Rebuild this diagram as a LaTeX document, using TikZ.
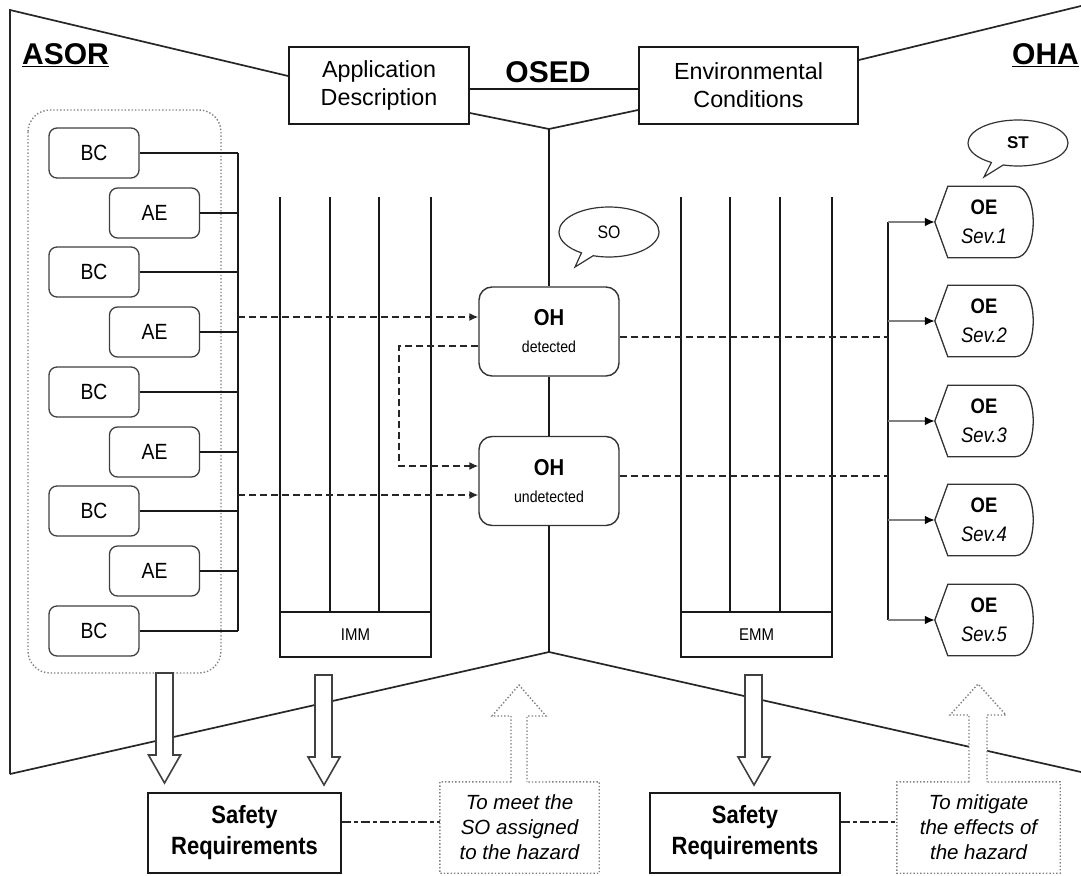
\documentclass[tikz,border=0pt]{standalone}
\usepackage{fontspec}
\setmainfont{Liberation Sans}
\newfontfamily\nrw[FakeStretch=0.88]{Liberation Sans}
\usetikzlibrary{shapes.callouts,arrows.meta,calc}
\begin{document}
\begin{tikzpicture}[x=1pt,y=-1pt,
  outline/.style={draw=black!85,line width=1.7},
  conn/.style={draw=black!90,line width=1.6},
  bigbox/.style={draw=black!90,line width=1.8,fill=white,align=center,inner sep=0},
  bcbox/.style={draw=black!75,line width=1.3,rounded corners=8,minimum width=90,minimum height=50,inner sep=0,font=\nrw\fontsize{22}{26}\selectfont},
  ohbox/.style={draw=black!80,line width=1.4,rounded corners=13,minimum width=140,minimum height=89,inner sep=0,align=center,font=\fontsize{17}{27}\selectfont},
  oenode/.style={minimum width=98,minimum height=71,inner sep=0,align=center,font=\fontsize{21}{29}\selectfont},
  oeline/.style={draw=black!80,line width=1.3},
  mmbox/.style={draw=black!90,line width=1.4,minimum height=45,inner sep=0,font=\nrw\fontsize{17}{20}\selectfont},
  dasharrow/.style={draw=black!85,line width=1.5,dash pattern=on 7pt off 4pt,-{Latex[length=9pt,width=8pt]}},
  dashline/.style={draw=black!85,line width=1.5,dash pattern=on 7pt off 4pt},
  oearrow/.style={draw=black!50,line width=2.6,-{Latex[length=10pt,width=9pt,black]}},
  hollow/.style={draw=black!75,line width=1.6,fill=white},
  dotline/.style={draw=black!50,line width=1.4,dotted},
  dashdot/.style={draw=black!85,line width=1.5,dash pattern=on 9pt off 3pt on 4pt off 3pt},
  bubble/.style={ellipse callout,draw=black!80,line width=1.2,fill=white,inner sep=0},
  title/.style={font=\bfseries\fontsize{30}{34}\selectfont,inner sep=0}
]
\useasboundingbox (0,0) rectangle (1081,875);

% ---- boxes at top
\node[bigbox,minimum width=180,minimum height=77,font=\fontsize{23.3}{28}\selectfont] (app) at (379,85.5) {Application\\Description};
\node[bigbox,minimum width=219,minimum height=77,font=\fontsize{23.3}{28}\selectfont] (env) at (748.5,85.5) {Environmental\\Conditions};

% ---- outline
\coordinate (tl) at (10,10);
\coordinate (bl) at (10,774);
\coordinate (atop) at (549,129);
\coordinate (abot) at (549,652);
\coordinate (tr) at (1081,6);
\coordinate (br) at (1081,772);
\draw[outline] (bl) -- (tl) -- (app.west |- 0,76);
\draw[outline] (app.east |- 0,113) -- (atop) -- (env.west |- 0,110);
\draw[outline] (env.east |- 0,60) -- (tr);
\draw[outline] (bl) -- (abot) -- (br);
\draw[conn,line width=1.7] (app.east |- 0,89) -- (env.west |- 0,89);

% ---- titles
\node[title,anchor=base west] (asor) at (22,65) {\underline{ASOR}};
\node[title,anchor=base] (osed) at (548,82) {OSED};
\node[title,anchor=base west] (oha) at (1012,65) {\underline{OHA}};

% ---- ASOR container and BC / AE
\draw[dotline,rounded corners=22] (28,110) rectangle (221,673);
\coordinate (lbusT) at (238,153);
\coordinate (lbusB) at (238,631);
\draw[conn] (lbusT) -- (lbusB);
\foreach \y/\n in {153/1,272/2,392/3,511/4,631/5}{
  \node[bcbox,fill=white] (bc\n) at (94,\y) {BC};
  \draw[conn] (bc\n.east) -- (lbusT |- bc\n.east);
}
\foreach \y/\n in {213/1,332/2,452/3,571/4}{
  \node[bcbox,fill=white] (ae\n) at (154.5,\y) {AE};
  \draw[conn] (ae\n.east) -- (lbusT |- ae\n.east);
}

% ---- IMM and EMM
\node[mmbox,minimum width=151] (imm) at (355.5,634.5) {IMM};
\foreach \x in {280,330,379,431} \draw[conn] (\x,197) -- (\x,612);
\node[mmbox,minimum width=151] (emm) at (756.5,634.5) {EMM};
\foreach \x in {681,730,780,832} \draw[conn] (\x,197) -- (\x,612);

% ---- OH boxes
\node[ohbox] (ohd) at (549,331.5) {{\nrw\bfseries\fontsize{23}{23}\selectfont OH}\\{\nrw\fontsize{16}{19}\selectfont detected}};
\node[ohbox] (ohu) at (549,481) {{\nrw\bfseries\fontsize{23}{23}\selectfont OH}\\{\nrw\fontsize{16}{19}\selectfont undetected}};
\draw[conn] (atop) -- (ohd.north);
\draw[conn] (ohd.south) -- (ohu.north);
\draw[conn] (ohu.south) -- (abot);

\node[bubble,minimum width=100,minimum height=50,callout absolute pointer={(575,267)},font=\nrw\fontsize{18}{20}\selectfont] (so) at (609,232) {SO};

% ---- dashed arrows
\draw[dasharrow] (lbusT |- 0,317) -- (ohd.west |- 0,317);
\draw[dasharrow] (lbusT |- 0,495) -- (ohu.west |- 0,495);
\draw[dasharrow] (ohd.west |- 0,346) -- (399,346) -- (399,466) -- (ohu.west |- 0,466);

% ---- OHA side
\coordinate (rbusT) at (888,222);
\coordinate (rbusB) at (888,620);
\draw[conn] (rbusT) -- (rbusB);
\draw[dashline] (ohd.east |- 0,337) -- (rbusT |- 0,337);
\draw[dashline] (ohu.east |- 0,476) -- (rbusT |- 0,476);
\foreach \i/\y in {1/222,2/321,3/421,4/520,5/620}{
  \node[oenode] (oe\i) at (984,\y) {{\nrw\bfseries OE}\\{\nrw\itshape Sev.\i}};
  \draw[oeline] (oe\i.west) -- ($(oe\i.north west)+(13,0)$) -- ($(oe\i.north east)+(-18,0)$)
     .. controls ($(oe\i.north east)+(6,0)$) and ($(oe\i.south east)+(6,0)$) .. ($(oe\i.south east)+(-18,0)$)
     -- ($(oe\i.south west)+(13,0)$) -- cycle;
  \draw[oearrow] (rbusT |- oe\i.west) -- (oe\i.west);
}
\node[bubble,minimum width=100,minimum height=46,callout absolute pointer={(984,177)},font=\bfseries\fontsize{17}{20}\selectfont] (st) at (1018,143) {ST};

% ---- hollow arrows
\draw[hollow] (156,673) -- (156,755) -- (148.5,755) -- (164.5,783) -- (180.5,755) -- (173,755) -- (173,673) -- cycle;
\draw[hollow] (315,675) -- (315,757) -- (308,757) -- (324,785) -- (340,757) -- (332,757) -- (332,675) -- cycle;
\draw[hollow] (745,675) -- (745,757) -- (738,757) -- (754,785) -- (770,757) -- (762,757) -- (762,675) -- cycle;

% ---- bottom boxes
\node[bigbox,minimum width=193,minimum height=80,font=\nrw\bfseries\fontsize{25}{31}\selectfont] (sr1) at (244.5,833) {Safety\\Requirements};
\node[bigbox,minimum width=190,minimum height=80,font=\nrw\bfseries\fontsize{25}{31}\selectfont] (sr2) at (745,833) {Safety\\Requirements};
\node[align=center,inner sep=0,minimum width=159,minimum height=91,font=\itshape\fontsize{20.5}{25}\selectfont] (db1) at (519.5,827.5) {To meet the\\SO assigned\\to the hazard};
\node[align=center,inner sep=0,minimum width=163,minimum height=91,font=\itshape\fontsize{20.5}{25}\selectfont] (db2) at (978.5,827.5) {To mitigate\\the effects of\\the hazard};

% dotted boxes with their up arrows
\fill[white] (511,782) -- (511,716) -- (492,716) -- (519,685) -- (546,716) -- (527,716) -- (527,782) -- cycle;
\draw[dotline] (511,782) -- (511,716) -- (492,716) -- (519,685) -- (546,716) -- (527,716) -- (527,782);
\draw[dotline] (511,782) -- (db1.north west) -- (db1.south west) -- (db1.south east) -- (db1.north east) -- (527,782);
\fill[white] (969,782) -- (969,715) -- (950,715) -- (978,684) -- (1006,715) -- (987,715) -- (987,782) -- cycle;
\draw[dotline] (969,782) -- (969,715) -- (950,715) -- (978,684) -- (1006,715) -- (987,715) -- (987,782);
\draw[dotline] (969,782) -- (db2.north west) -- (db2.south west) -- (db2.south east) -- (db2.north east) -- (987,782);

\draw[dashdot] (sr1.east |- 0,822) -- (db1.west |- 0,822);
\draw[dashdot] (sr2.east |- 0,822) -- (db2.west |- 0,822);
\end{tikzpicture}
\end{document}
